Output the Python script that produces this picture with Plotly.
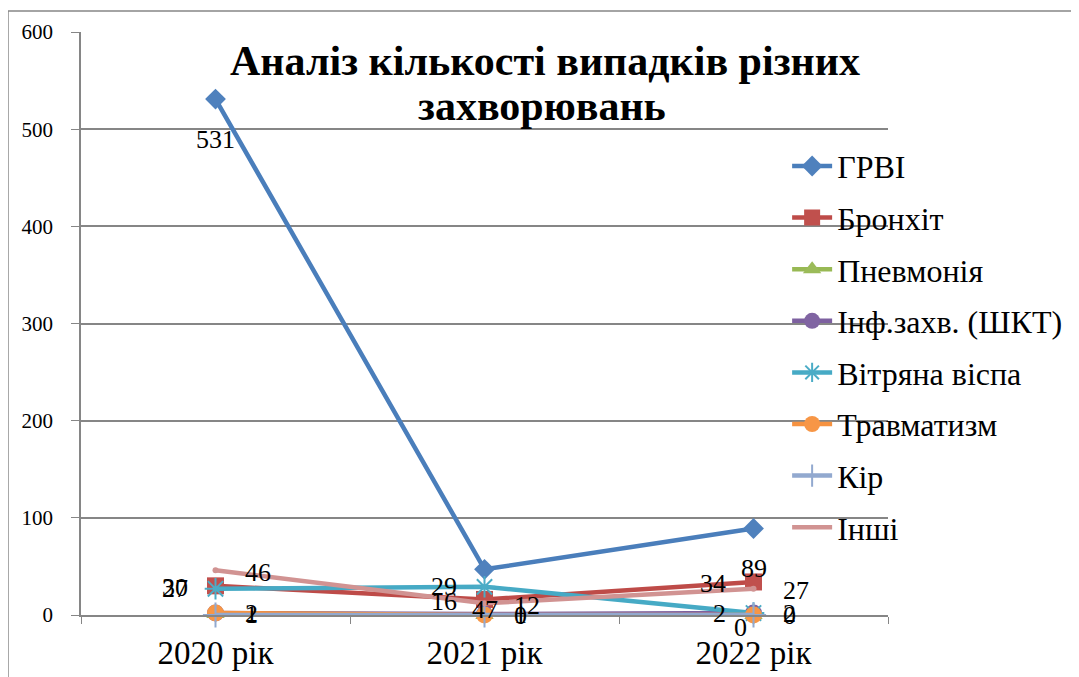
import plotly.graph_objects as go

categories = ["2020 рік", "2021 рік", "2022 рік"]
series_names = ["ГРВІ", "Бронхіт", "Пневмонія", "Інф.захв. (ШКТ)",
                "Вітряна віспа", "Травматизм", "Кір", "Інші"]
grvi = [531, 47, 89]
bronkhit = [30, 16, 34]
pnevmoniia = [1, 0, 0]
inf_zakhv = [2, 1, 2]
vitriana_vispa = [27, 29, 2]
travmatyzm = [2, 0, 0]
kir = [0, 0, 0]
inshi = [46, 12, 27]
y_ticks = [0, 100, 200, 300, 400, 500, 600]
title_lines = ["Аналіз кількості випадків різних", "захворювань"]

values = [grvi, bronkhit, pnevmoniia, inf_zakhv, vitriana_vispa, travmatyzm, kir, inshi]
line_colors = ["#4A7EBB", "#BE4B48", "#98B954", "#7D60A0", "#46AAC5", "#F69240", "#92A9CF", "#D19392"]
marker_colors = ["#4F81BD", "#C0504D", "#9BBB59", "#8064A2", "#4BACC6", "#F79646", "#92A9CF", "#D19392"]
symbols = ["diamond", "square", "triangle-up", "circle", "asterisk-open", "circle", "cross-thin-open", "circle"]
marker_sizes = [16, 17, 16, 17, 18, 17, 18, 0]
# label placement: (xanchor, xshift, yshift) ; None = no labels
label_style = [("center", 0, -40), ("right", -26, -2), ("left", 27, 0), ("left", 27, 0),
               ("right", -26, 0), ("center", -13, -12), None, ("left", 27, -2)]
show_labels = [[1, 1, 1], [1, 1, 1], [1, 1, 1], [1, 1, 1],
               [1, 1, 1], [0, 0, 1], [0, 0, 0], [1, 1, 1]]

SERIF = '"Liberation Serif", "Times New Roman", serif'

fig = go.Figure()
for i, name in enumerate(series_names):
    vals = values[i]
    fig.add_trace(go.Scatter(
        x=categories, y=vals, name=name, mode="lines+markers",
        line=dict(color=line_colors[i], width=4.5),
        marker=dict(symbol=symbols[i], size=marker_sizes[i], color=marker_colors[i],
                    line=dict(width=2 if symbols[i] in ("asterisk-open", "cross-thin-open") else 0,
                              color=marker_colors[i])),
        legendgroup=name, cliponaxis=False,
    ))
    st = label_style[i]
    if st is None:
        continue
    for c, v, s in zip(categories, vals, show_labels[i]):
        if not s:
            continue
        fig.add_annotation(x=c, y=v, xref="x", yref="y", text=str(v), showarrow=False,
                           xanchor=st[0], yanchor="middle", xshift=st[1], yshift=st[2],
                           font=dict(family=SERIF, size=26, color="black"))

title_pos = [(0.575, 0.950), (0.571, 0.873)]
for line, (tx, ty) in zip(title_lines, title_pos):
    fig.add_annotation(
        text="<b>" + line + "</b>",
        xref="paper", yref="paper", x=tx, y=ty, xanchor="center", yanchor="middle",
        showarrow=False, font=dict(family=SERIF, size=42, color="black"),
    )

fig.add_shape(type="rect", xref="paper", yref="paper", x0=-0.0905, y0=-0.3, x1=1.4, y1=1.036,
              line=dict(color="#868686", width=1.5), fillcolor="rgba(0,0,0,0)", layer="below")

fig.update_layout(
    width=1079, height=677,
    margin=dict(l=73, r=199, t=24, b=70),
    paper_bgcolor="white", plot_bgcolor="white",
    showlegend=True,
    legend=dict(x=0.875, y=0.817, xanchor="left", yanchor="top",
                font=dict(family=SERIF, size=32, color="black"),
                bgcolor="rgba(0,0,0,0)", tracegroupgap=7, itemwidth=40),
    font=dict(family=SERIF, color="black"),
)
fig.update_xaxes(
    type="category", range=[-0.5, 2.5], showgrid=False,
    showline=True, linecolor="#868686", linewidth=1.5,
    ticks="outside", tickson="boundaries", ticklen=7, tickcolor="#868686",
    tickfont=dict(family=SERIF, size=33, color="black"), ticklabelstandoff=8,
)
fig.update_yaxes(
    range=[0, 600], tickvals=y_ticks, showgrid=True, gridcolor="#868686", gridwidth=1.5,
    showline=True, linecolor="#868686", linewidth=1.5, zeroline=False,
    ticks="outside", ticklen=8, tickcolor="#868686",
    tickfont=dict(family=SERIF, size=21, color="black"), ticklabelstandoff=14,
)

fig.write_html("out.html")
